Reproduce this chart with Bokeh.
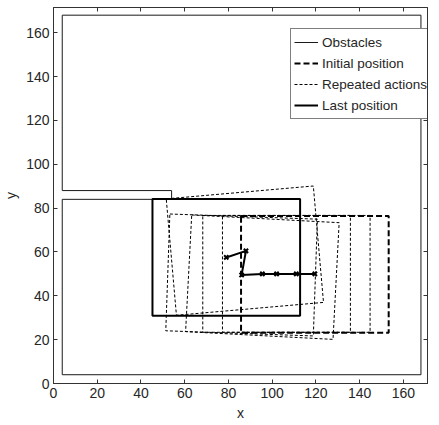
import numpy as np
from bokeh.plotting import figure
from bokeh.models import LinearAxis, Range1d, Legend, LegendItem, FixedTicker
from bokeh.embed import file_html
from bokeh.resources import INLINE

# ---- data ----
x_ticks = [0, 20, 40, 60, 80, 100, 120, 140, 160]
y_ticks = [0, 20, 40, 60, 80, 100, 120, 140, 160]

obstacle_x = [4, 4, 168, 168, 4, 4, 54, 54, 4]
obstacle_y = [84, 4, 4, 168, 168, 88, 88, 84, 84]

robot_w = 67.5
robot_h = 53.3

initial_cx = [119.5]
initial_cy = [49.8]

last_cx = [79]
last_cy = [57.5]

repeated_cx = [111, 102, 95.5, 86, 87.5]
repeated_cy = [50, 50, 48.5, 49.5, 60.6]
repeated_angle = [0, 0, -3, -2, 5]

path_x = [119.5, 111, 102, 95.5, 86, 88, 79]
path_y = [50, 50, 50, 50, 49.5, 60.5, 57.5]

FONT = "Liberation Sans"
TXT = "#262626"
AX = "#333333"

p = figure(width=439, height=425, output_backend="svg", toolbar_location=None,
           x_range=Range1d(0, 171), y_range=Range1d(0, 171.5),
           min_border_left=50, min_border_right=12, min_border_top=7, min_border_bottom=42)
p.background_fill_color = "white"
p.border_fill_color = "white"
p.xgrid.visible = False
p.ygrid.visible = False
p.outline_line_color = AX
p.outline_line_width = 1

for ax, ticks in ((p.xaxis[0], x_ticks), (p.yaxis[0], y_ticks)):
    ax.ticker = FixedTicker(ticks=ticks)
    ax.minor_tick_line_color = None
    ax.major_tick_in = 4
    ax.major_tick_out = 0
    ax.axis_line_color = AX
    ax.major_tick_line_color = AX
    ax.major_label_text_font = FONT
    ax.major_label_text_font_size = "14px"
    ax.major_label_text_color = TXT
    ax.major_label_standoff = 4
    ax.axis_label_text_font = FONT
    ax.axis_label_text_font_size = "14px"
    ax.axis_label_text_font_style = "normal"
    ax.axis_label_text_color = TXT
    ax.axis_label_standoff = 4

p.xaxis[0].axis_label = "x"
p.yaxis[0].axis_label = "y"

for loc, ticks in (("above", x_ticks), ("right", y_ticks)):
    a = LinearAxis(ticker=FixedTicker(ticks=ticks),
                   major_label_overrides={t: "" for t in ticks},
                   major_label_standoff=0, major_tick_in=4, major_tick_out=0,
                   minor_tick_line_color=None, axis_line_color=AX,
                   major_tick_line_color=AX)
    p.add_layout(a, loc)

# obstacles
r_obs = p.line(obstacle_x, obstacle_y, line_color="#1a1a1a", line_width=1)

# repeated actions
r_rep = p.rect(x=repeated_cx, y=repeated_cy, width=robot_w, height=robot_h,
               angle=repeated_angle, angle_units="deg", fill_color=None,
               line_color="black", line_width=1, line_dash="3 2")

# initial position
r_init = p.rect(x=initial_cx, y=initial_cy, width=robot_w, height=robot_h,
                fill_color=None, line_color="black", line_width=2, line_dash="6 3")

# last position
r_last = p.rect(x=last_cx, y=last_cy, width=robot_w, height=robot_h,
                fill_color=None, line_color="black", line_width=2)

# trajectory
p.line(path_x, path_y, line_color="black", line_width=2)
p.scatter(path_x, path_y, marker="x", size=6, line_color="black", line_width=2)

# legend proxies: single-point lines (draw nothing in the plot, give line samples)
l_init = p.line(initial_cx, initial_cy, line_color="black", line_width=2, line_dash="6 3")
l_rep = p.line(repeated_cx[:1], repeated_cy[:1], line_color="black", line_width=1, line_dash="3 2")
l_last = p.line(last_cx, last_cy, line_color="black", line_width=2)

legend = Legend(items=[
    LegendItem(label="Obstacles", renderers=[r_obs]),
    LegendItem(label="Initial position", renderers=[l_init]),
    LegendItem(label="Repeated actions", renderers=[l_rep]),
    LegendItem(label="Last position", renderers=[l_last]),
], location=(237, 264))
legend.label_text_font = FONT
legend.label_text_font_size = "13.5px"
legend.label_text_color = TXT
legend.glyph_width = 24
legend.glyph_height = 20
legend.label_height = 20
legend.label_standoff = 4
legend.spacing = 1
legend.padding = 3
legend.margin = 0
legend.border_line_color = "black"
legend.border_line_width = 1
legend.background_fill_alpha = 1
p.add_layout(legend, "center")

open("out.html", "w").write(file_html(p, INLINE))
